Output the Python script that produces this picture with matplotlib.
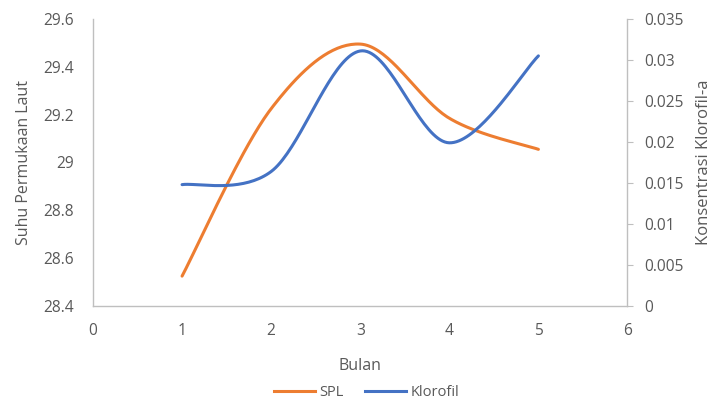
import numpy as np
import matplotlib.pyplot as plt
from matplotlib.lines import Line2D

bulan = [1, 2, 3, 4, 5]
spl = [28.525, 29.225, 29.495, 29.185, 29.055]
klorofil = [0.0148, 0.0164, 0.0311, 0.0199, 0.0305]

warna_spl = "#ED7D31"
warna_klorofil = "#4472C4"
abu = "#595959"
garis = "#BFBFBF"

plt.rcParams['font.family'] = ['Open Sans', 'DejaVu Sans']


def kurva_halus(x, y, n=40):
    # Bezier smoothing like spreadsheet "smoothed lines"
    x = np.asarray(x, float)
    y = np.asarray(y, float)
    px = np.concatenate([[x[0]], x, [x[-1]]])
    py = np.concatenate([[y[0]], y, [y[-1]]])
    xs, ys = [], []
    t = np.linspace(0, 1, n)
    for i in range(1, len(px) - 2):
        p0 = np.array([px[i], py[i]])
        p3 = np.array([px[i + 1], py[i + 1]])
        c1 = p0 + (np.array([px[i + 1], py[i + 1]]) - np.array([px[i - 1], py[i - 1]])) / 6
        c2 = p3 - (np.array([px[i + 2], py[i + 2]]) - np.array([px[i], py[i]])) / 6
        b = ((1 - t) ** 3)[:, None] * p0 + (3 * (1 - t) ** 2 * t)[:, None] * c1 \
            + (3 * (1 - t) * t ** 2)[:, None] * c2 + (t ** 3)[:, None] * p3
        xs.extend(b[:, 0])
        ys.extend(b[:, 1])
    return np.array(xs), np.array(ys)


fig = plt.figure(figsize=(7.12, 4.03), dpi=100)
ax = fig.add_axes([0.1306, 0.2407, 0.7507, 0.7122])
ax2 = ax.twinx()

xs, ys = kurva_halus(bulan, spl)
ax.plot(xs, ys, color=warna_spl, lw=2.2, solid_capstyle='round')
xk, yk = kurva_halus(bulan, klorofil)
ax2.plot(xk, yk, color=warna_klorofil, lw=2.2, solid_capstyle='round')

ax.set_xlim(0, 6)
ax.set_ylim(28.4, 29.6)
ax2.set_ylim(0, 0.035)
ax.set_xticks(range(0, 7))
ax.set_yticks([28.4, 28.6, 28.8, 29.0, 29.2, 29.4, 29.6])
ax.set_yticklabels(['28.4', '28.6', '28.8', '29', '29.2', '29.4', '29.6'])
ax2.set_yticks([0, 0.005, 0.01, 0.015, 0.02, 0.025, 0.03, 0.035])
ax2.set_yticklabels(['0', '0.005', '0.01', '0.015', '0.02', '0.025', '0.03', '0.035'])

for a in (ax, ax2):
    for s in a.spines.values():
        s.set_visible(False)
ax.spines['left'].set_visible(True)
ax.spines['bottom'].set_visible(True)
ax2.spines['right'].set_visible(True)
for s in (ax.spines['left'], ax.spines['bottom'], ax2.spines['right']):
    s.set_color(garis)
    s.set_linewidth(1.0)

ax.tick_params(axis='both', length=0, labelsize=11.2, labelcolor=abu)
ax.tick_params(axis='y', pad=14)
ax.tick_params(axis='x', pad=12)
ax2.tick_params(axis='y', length=4, color=garis, labelsize=11.2, labelcolor=abu, pad=8)

ax.set_xlabel('Bulan', fontsize=11.5, color=abu, labelpad=14)
ax.set_ylabel('Suhu Permukaan Laut', fontsize=11.5, color=abu, labelpad=8)
ax2.set_ylabel('Konsentrasi Klorofil-a', fontsize=12, color=abu, labelpad=9)

legenda = [Line2D([0], [0], color=warna_spl, lw=2.2),
           Line2D([0], [0], color=warna_klorofil, lw=2.2)]
fig.legend(legenda, ['SPL', 'Klorofil'], loc='center', bbox_to_anchor=(0.515, 0.025),
           ncol=2, frameon=False, fontsize=10.5, labelcolor=abu, handlelength=2.8,
           handletextpad=0.3, columnspacing=1.5)

fig.savefig('out.png', dpi=100)
